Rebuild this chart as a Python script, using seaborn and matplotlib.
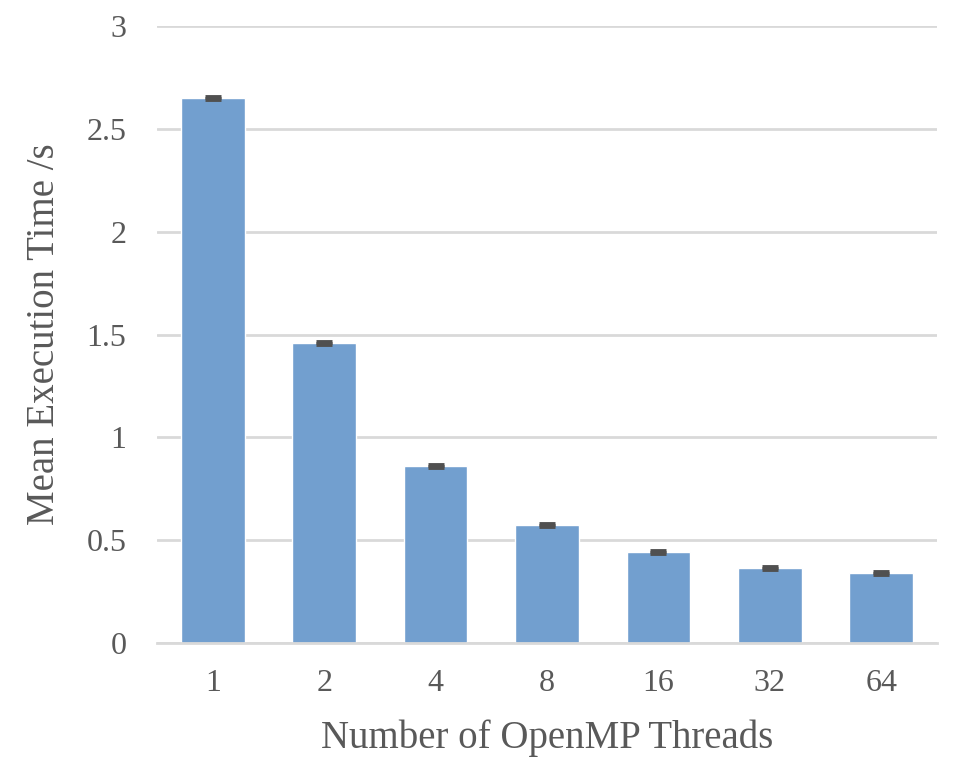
import numpy as np
import pandas as pd
import matplotlib
matplotlib.use('Agg')
import matplotlib.pyplot as plt
import seaborn as sns

threads = ['1', '2', '4', '8', '16', '32', '64']
mean_time = [2.65, 1.458, 0.861, 0.573, 0.442, 0.365, 0.341]
time_err = [0.005, 0.004, 0.005, 0.004, 0.004, 0.005, 0.004]

df = pd.DataFrame({'Threads': threads, 'Time': mean_time})

sns.set_theme(style='white')
plt.rcParams['font.family'] = ['Liberation Serif', 'DejaVu Serif']

text_col = '#595959'
grid_col = '#D9D9D9'

fig = plt.figure(figsize=(9.58, 7.69), dpi=100)
ax = fig.add_axes([0.164, 0.1638, 0.814, 0.8022])

sns.barplot(data=df, x='Threads', y='Time', color='#729FCF', saturation=1,
            width=0.57, errorbar=None, ax=ax, zorder=2)
# error bars are tiny, mostly just the caps show
ax.errorbar(x=np.arange(len(threads)), y=mean_time, yerr=time_err, fmt='none',
            ecolor='#505050', elinewidth=2, capsize=6, capthick=3.5, zorder=3)

ax.set_ylim(0, 3)
ax.set_xlim(-0.5, len(threads) - 0.5)
ax.set_yticks(np.arange(0, 3.01, 0.5))
ax.set_yticklabels(['0', '0.5', '1', '1.5', '2', '2.5', '3'])
ax.yaxis.grid(True, color=grid_col, linewidth=2, zorder=0)
ax.set_axisbelow(True)

for s in ['top', 'right', 'left']:
    ax.spines[s].set_visible(False)
ax.spines['bottom'].set_color(grid_col)
ax.spines['bottom'].set_linewidth(2)

ax.tick_params(axis='both', length=0, labelsize=23, colors=text_col)
ax.tick_params(axis='y', pad=22)
ax.tick_params(axis='x', pad=19)
ax.set_xlabel('Number of OpenMP Threads', fontsize=28, color=text_col, labelpad=15)
ax.set_ylabel('Mean Execution Time /s', fontsize=28, color=text_col, labelpad=17)

fig.savefig('out.png', dpi=100)
